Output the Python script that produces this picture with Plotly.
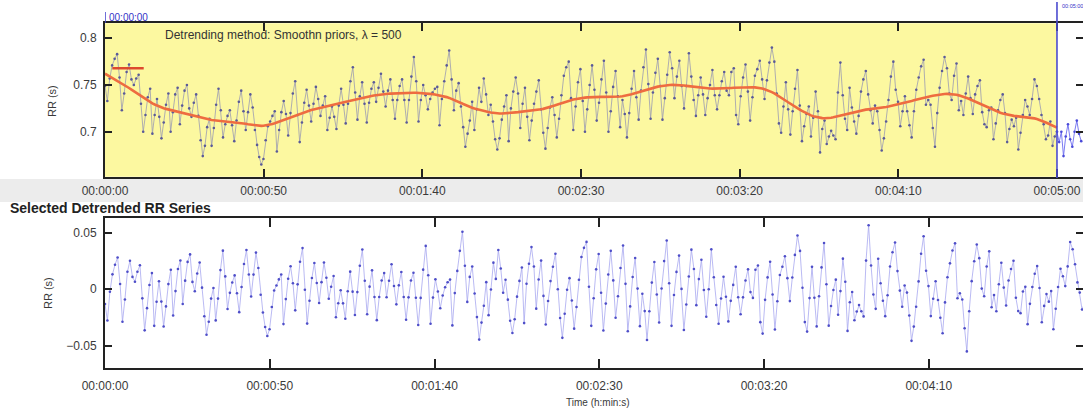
import numpy as np
import plotly.graph_objects as go

# ---------------- data (RR intervals in seconds) ----------------
rr_seg1 = [
    .749, .733, .757, .771, .778, .783, .758, .723, .741, .764,
    .772, .756, .750, .757, .761, .730, .700, .718, .737, .746,
    .698, .718, .735, .716, .693, .710, .729, .741, .700, .721,
    .740, .747, .708, .728, .744, .750, .725, .716, .731, .740,
    .717, .691, .674, .685, .705, .714, .685, .704, .729, .746,
    .723, .694, .708, .717, .723, .707, .690, .712, .732, .744,
    .722, .702, .721, .740, .726, .702, .686, .673, .665, .671,
    .691, .706, .711, .717, .722, .679, .702, .721, .733, .719,
    .696, .720, .741, .754, .718, .689, .710, .731, .745, .728,
    .711, .730, .748, .735, .717, .728, .738, .702, .715, .727,
    .716, .703, .728, .746, .729, .709, .730, .754, .769, .742,
    .713, .738, .753, .730, .710, .731, .746, .753, .732, .747,
    .762, .743, .727, .744, .756, .734, .714, .734, .749, .756,
    .734, .710, .734, .759, .780,
]
rr_seg2 = [
    .754, .711, .734, .750, .739, .724, .735, .742, .746, .748,
    .707, .735, .754, .771, .787, .756, .723, .744, .752, .727,
    .705, .684, .698, .712, .732, .702, .724, .747, .732, .757,
    .740, .718, .729, .711, .692, .681, .693, .713, .727, .739,
    .690, .725, .743, .758, .741, .704, .730, .747, .716, .691,
    .712, .730, .743, .755, .724, .699, .682, .704, .726, .737,
    .718, .694, .714, .739, .760, .769, .775, .736, .702, .727,
    .753, .767, .733, .700, .724, .750, .771, .745, .712, .731,
    .756, .776, .742, .700, .722, .748, .765, .738, .705, .734,
    .719, .694, .720, .746, .765, .737, .713, .744, .769, .788,
    .751, .714, .742, .763, .778, .749, .713, .736, .761, .785,
    .768, .736, .759, .776, .749, .725, .749, .784, .759, .734,
    .717, .739, .758, .740, .718, .736, .750, .766, .739, .724,
    .739, .754,
]
rr_seg3 = [
    .764, .744, .739, .764, .768, .718, .708, .738, .758, .772,
    .743, .712, .737, .760, .767, .776, .756, .735, .755, .774,
    .790, .775, .741, .709, .699, .727, .753, .724, .697, .722,
    .746, .766, .728, .690, .706, .719, .727, .695, .715, .743,
    .722, .678, .703, .712, .687, .695, .701, .696, .692, .742,
    .774, .739, .714, .702, .747, .726, .711, .698, .717, .743,
    .756, .765, .740, .723, .709, .728, .722, .702, .680, .693,
    .711, .734, .759, .775, .745, .732, .706, .722, .738, .722,
    .707, .694, .722, .745, .758, .770, .777, .729, .734, .729,
    .704, .684, .720, .747, .765, .780, .768, .741, .734, .760,
    .773, .723, .733, .718, .741, .759, .736, .719, .740, .749,
    .755, .721, .708, .705, .723, .726, .692, .709, .723, .734,
    .740, .720, .689, .703, .713, .706, .715, .681, .699, .718,
    .734, .727, .718, .735, .756, .749, .735, .718, .708, .692,
    .696, .711, .685, .695,
]
# beats after the selected analysis window (drawn outside the yellow area)
rr_after = [.700, .689, .700, .674, .695, .708, .692, .684, .700, .712, .698, .690]

sel_start = 0.0          # s, selected window
sel_end = 300.0          # s
smooth_lambda = 500      # label shown in the chart
sp_strength = 55         # smoothing strength used for the beat-indexed trend

time_tick_values = [0, 50, 100, 150, 200, 250, 300]
time_tick_labels = ["00:00:00", "00:00:50", "00:01:40", "00:02:30", "00:03:20", "00:04:10", "00:05:00"]
rr_tick_values = [0.7, 0.75, 0.8]
rr_tick_labels = ["0.7", "0.75", "0.8"]
det_tick_values = [-0.05, 0.0, 0.05]
det_tick_labels = ["\u22120.05", "0", "0.05"]

# ---------------- derived series ----------------
rr_all = np.array(rr_seg1 + rr_seg2 + rr_seg3 + rr_after)
t_all = np.concatenate([[0.0], np.cumsum(rr_all[1:])])
sel = t_all <= sel_end
rr_sel = rr_all[sel]
t_sel = t_all[sel]
n = len(rr_sel)
D2 = np.zeros((n - 2, n))
for i in range(n - 2):
    D2[i, i], D2[i, i + 1], D2[i, i + 2] = 1.0, -2.0, 1.0
trend = np.linalg.solve(np.eye(n) + sp_strength ** 2 * D2.T @ D2, rr_sel)
detrended = rr_sel - trend
last = np.argmax(~sel) - 1
t_out = t_all[last:]
rr_out = rr_all[last:]

# ---------------- figure ----------------
W, H = 1083, 410
FONT = "Liberation Sans"


def py(y):
    return 1 - y / H


fig = go.Figure()
fig.add_trace(go.Scatter(x=t_sel, y=rr_sel, mode="lines+markers",
                         line=dict(color="#9a9ab2", width=0.8),
                         marker=dict(size=2.6, color="#5a5a98"),
                         xaxis="x", yaxis="y", hoverinfo="skip"))
fig.add_trace(go.Scatter(x=t_out, y=rr_out, mode="lines+markers",
                         line=dict(color="#6c6cf0", width=0.9),
                         marker=dict(size=2.6, color="#4a4ad8"),
                         xaxis="x", yaxis="y", hoverinfo="skip"))
fig.add_trace(go.Scatter(x=t_sel, y=trend, mode="lines",
                         line=dict(color="#ee6c40", width=2.6),
                         xaxis="x", yaxis="y", hoverinfo="skip"))
fig.add_trace(go.Scatter(x=t_sel, y=detrended, mode="lines+markers",
                         line=dict(color="#a8a8f0", width=0.8),
                         marker=dict(size=2.6, color="#4e4ec8"),
                         xaxis="x2", yaxis="y2", hoverinfo="skip"))

axis_common = dict(showgrid=False, zeroline=False, showline=True, linecolor="#222222",
                   linewidth=2, ticks="inside", mirror="ticks", tickcolor="#222222",
                   tickwidth=1.5, automargin=False,
                   tickfont=dict(family=FONT, size=12, color="#3a3a3a"))

x_dom = [105 / W, 1.0]
fig.update_layout(
    width=W, height=H, autosize=False,
    margin=dict(l=0, r=0, t=0, b=0, pad=0),
    paper_bgcolor="white", plot_bgcolor="white",
    showlegend=False,
    xaxis=dict(domain=x_dom, range=[0, 308.2], anchor="y",
               tickvals=time_tick_values, ticktext=time_tick_labels, ticklen=8,
               ticklabelstandoff=2, **axis_common),
    yaxis=dict(domain=[py(176.7), py(23.3)], range=[0.652, 0.816], anchor="x",
               tickvals=rr_tick_values, ticktext=rr_tick_labels, ticklen=7,
               ticklabelstandoff=4, **axis_common),
    xaxis2=dict(domain=x_dom, range=[0, 296.8], anchor="y2",
                tickvals=time_tick_values, ticktext=time_tick_labels, ticklen=9,
                ticklabelstandoff=5, **axis_common),
    yaxis2=dict(domain=[py(368.3), py(218.3)], range=[-0.070, 0.0627], anchor="x2",
                tickvals=det_tick_values, ticktext=det_tick_labels, ticklen=7,
                ticklabelstandoff=4, **axis_common),
)

shapes = [
    dict(type="rect", xref="paper", yref="paper", x0=0, x1=1, y0=py(202), y1=py(179),
         fillcolor="#ececec", line=dict(width=0), layer="below"),
    dict(type="rect", xref="x", yref="y domain", x0=sel_start, x1=sel_end, y0=0, y1=1,
         fillcolor="#fcf8a0", line=dict(width=0), layer="below"),
    dict(type="line", xref="x", yref="y", x0=2.3, x1=12.2, y0=0.768, y1=0.768,
         line=dict(color="#dd4a2e", width=2.6)),
    dict(type="line", xref="x", yref="paper", x0=sel_end, x1=sel_end, y0=py(178), y1=py(2),
         line=dict(color="#4b4bd0", width=1.6)),
    dict(type="line", xref="x", yref="paper", x0=sel_start, x1=sel_start, y0=py(23), y1=py(12),
         line=dict(color="#4b4bd0", width=1.6)),
]
fig.update_layout(shapes=shapes)

ann = [
    dict(text="Detrending method: Smoothn priors, \u03bb = %d" % smooth_lambda,
         x=283 / W, y=py(35), font=dict(family=FONT, size=12, color="#333333")),
    dict(text="00:00:00", x=107 / W, y=py(17), xanchor="left",
         font=dict(family=FONT, size=10, color="#3434c8")),
    dict(text="00:05:00", x=1060 / W, y=py(6), xanchor="left",
         font=dict(family=FONT, size=5.5, color="#3434c8")),
    dict(text="<b>Selected Detrended RR Series</b>", x=8 / W, y=py(208), xanchor="left",
         font=dict(family=FONT, size=14, color="#222222")),
    dict(text="RR (s)", x=52 / W, y=py(101), textangle=-90,
         font=dict(family=FONT, size=11, color="#3a3a3a")),
    dict(text="RR (s)", x=48 / W, y=py(293), textangle=-90,
         font=dict(family=FONT, size=11, color="#3a3a3a")),
    dict(text="Time (h:min:s)", x=598 / W, y=py(402),
         font=dict(family=FONT, size=10, color="#3a3a3a")),
]
for a in ann:
    a.update(xref="paper", yref="paper", showarrow=False)
    a.setdefault("xanchor", "center")
    a.setdefault("yanchor", "middle")
fig.update_layout(annotations=ann)

fig.write_html(
    "out.html",
    config={"displayModeBar": False},
    post_script="document.body.style.margin='0';document.body.style.overflow='hidden';",
)
